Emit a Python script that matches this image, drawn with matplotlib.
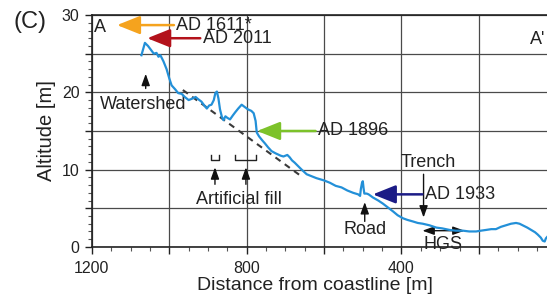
import numpy as np
import matplotlib
matplotlib.use("Agg")
import matplotlib.pyplot as plt
from matplotlib.ticker import MultipleLocator, FuncFormatter

plt.rcParams['font.family'] = ['Liberation Sans', 'DejaVu Sans']

# profile A-A' : distance from coastline [m], altitude [m]
dist = [1072, 1063, 1055, 1046, 1040, 1033, 1028, 1023, 1015, 1007, 1000, 994,
        985, 977, 968, 960, 950, 940, 932, 925, 917, 908, 903, 897, 891, 885,
        881, 877, 873, 869, 864, 860, 855, 850, 843, 836, 830, 822, 813, 805,
        797, 788, 782, 777, 774, 768, 760, 753, 745, 736, 725, 712, 705, 695,
        689, 683, 676, 668, 658, 645, 635, 620, 600, 585, 570, 555, 540, 525,
        512, 507, 505, 502, 500, 498, 496, 490, 485, 474, 460, 448, 435, 422,
        410, 396, 385, 371, 358, 345, 328, 310, 295, 276, 260, 241, 225, 207,
        195, 181, 168, 156, 143, 130, 117, 104, 95, 87, 75, 65, 55, 48, 40,
        35, 30, 27, 20]
alt = [24.8, 26.4, 26.0, 25.4, 25.0, 25.1, 24.6, 24.8, 24.0, 23.0, 21.8, 20.9,
       20.4, 19.9, 19.8, 19.4, 19.0, 19.2, 19.4, 19.1, 18.8, 18.2, 17.9, 18.3,
       18.4, 19.0, 19.9, 20.1, 19.2, 17.8, 16.8, 16.4, 16.9, 16.7, 16.5, 17.0,
       17.4, 17.9, 18.4, 18.1, 17.8, 17.6, 17.3, 16.3, 14.8, 14.3, 13.8, 13.4,
       12.9, 12.4, 12.1, 11.8, 11.7, 11.9, 11.6, 11.2, 10.9, 10.5, 10.0, 9.4,
       9.2, 8.9, 8.6, 8.3, 7.9, 7.7, 7.3, 7.0, 6.8, 6.6, 7.5, 8.3, 8.5, 7.6,
       6.9, 6.9, 6.8, 6.4, 6.0, 5.6, 5.1, 4.6, 4.1, 3.7, 3.5, 3.3, 3.1, 3.0,
       2.8, 2.5, 2.4, 2.2, 2.1, 2.1, 2.0, 2.0, 2.1, 2.2, 2.3, 2.3, 2.6, 2.8,
       3.0, 3.1, 3.0, 2.8, 2.5, 2.2, 1.9, 1.6, 1.2, 0.8, 0.7, 1.1, 1.5]

# original slope before artificial fill
fill_d = [965, 655]
fill_a = [20.3, 9.0]

# coloured arrows: label, tail (d, alt), head (d, alt), colour
events = [
    ("AD 1611*", (988, 28.7), (1135, 28.7), "#f5a31e"),
    ("AD 2011", (920, 27.0), (1057, 27.0), "#b3121b"),
    ("AD 1896", (622, 15.0), (773, 15.0), "#7cc22a"),
    ("AD 1933", (346, 6.8), (474, 6.8), "#1c1c86"),
]

fig = plt.figure(figsize=(5.47, 2.95), dpi=100)
ax = fig.add_axes([0.168, 0.163, 0.849, 0.786])

ax.plot(fill_d, fill_a, ls=(0, (3, 2.5)), color="#3a3a3a", lw=1.5, zorder=3)
ax.plot(dist, alt, color="#2390d8", lw=1.6, zorder=4)

ax.set_xlim(1200, 0)
ax.set_ylim(0, 30)
ax.xaxis.set_major_locator(MultipleLocator(200))
ax.xaxis.set_minor_locator(MultipleLocator(50))
ax.yaxis.set_major_locator(MultipleLocator(5))
ax.yaxis.set_minor_locator(MultipleLocator(1))
ax.xaxis.set_major_formatter(FuncFormatter(
    lambda v, p: "%d" % v if round(v) % 400 == 0 and v > 1 else ""))
ax.yaxis.set_major_formatter(FuncFormatter(lambda v, p: "%d" % v if round(v) % 10 == 0 else ""))
ax.tick_params(which="major", direction="out", length=5, width=1, labelsize=11.5,
               colors="#222222", pad=4)
ax.tick_params(axis="x", which="major", pad=5)
ax.tick_params(which="minor", direction="out", length=3, width=0.8, colors="#555555")
ax.grid(True, which="major", color="#4a4a4a", lw=0.9)
ax.set_axisbelow(True)
for s in ax.spines.values():
    s.set_color("#222222")
    s.set_linewidth(1.2)

fig.text(0.576, 0.033, "Distance from coastline [m]", fontsize=14, color="#222222",
         ha="center", va="center")
ax.set_ylabel("Altitude [m]", fontsize=14.5, color="#222222", labelpad=4)

fig.text(0.055, 0.925, "(C)", fontsize=17, ha="center", va="center", color="#222222")

tc = "#222222"
fs = 13
for label, tail, head, col in events:
    ax.annotate("", xy=head, xytext=tail,
                arrowprops=dict(arrowstyle="-|>,head_length=0.7,head_width=0.28",
                                mutation_scale=20, color=col, lw=1.8,
                                shrinkA=0, shrinkB=0), zorder=6)
    ax.text(tail[0] - 6, tail[1], label, fontsize=fs, ha="left", va="center", color=tc, zorder=7)

ax.text(1178, 28.4, "A", fontsize=fs, ha="center", va="center", color=tc)
ax.text(67, 26.8, "A'", fontsize=fs, ha="left", va="center", color=tc)

blk = dict(arrowstyle="-|>,head_length=0.5,head_width=0.18", mutation_scale=14,
           color="#111111", lw=1.0, shrinkA=0, shrinkB=0)

# watershed
ax.annotate("", xy=(1061, 22.4), xytext=(1061, 20.5), arrowprops=blk)
ax.text(1068, 18.4, "Watershed", fontsize=fs, ha="center", va="center", color=tc)

# artificial fill
for xd in [882, 802]:
    ax.annotate("", xy=(xd, 10.3), xytext=(xd, 8.1), arrowprops=blk)
for x0, x1 in [(892, 871), (830, 777)]:
    ax.plot([x0, x0, x1, x1], [11.9, 11.3, 11.3, 11.9], color="#222222", lw=1.0)
ax.text(820, 6.1, "Artificial fill", fontsize=fs, ha="center", va="center", color=tc)

# road
ax.annotate("", xy=(495, 5.8), xytext=(495, 3.3), arrowprops=blk)
ax.text(494, 2.2, "Road", fontsize=fs, ha="center", va="center", color=tc)

# trench
ax.annotate("", xy=(343, 3.8), xytext=(343, 9.4), arrowprops=blk)
ax.text(331, 10.9, "Trench", fontsize=fs, ha="center", va="center", color=tc)

# HGS
ax.annotate("", xy=(237, 2.1), xytext=(346, 2.1),
            arrowprops=dict(arrowstyle="<|-|>,head_length=0.5,head_width=0.18",
                            mutation_scale=14, color="#111111", lw=1.0,
                            shrinkA=0, shrinkB=0))
ax.text(292, 0.3, "HGS", fontsize=fs, ha="center", va="center", color=tc, zorder=7)

fig.savefig("out.png", dpi=100)
